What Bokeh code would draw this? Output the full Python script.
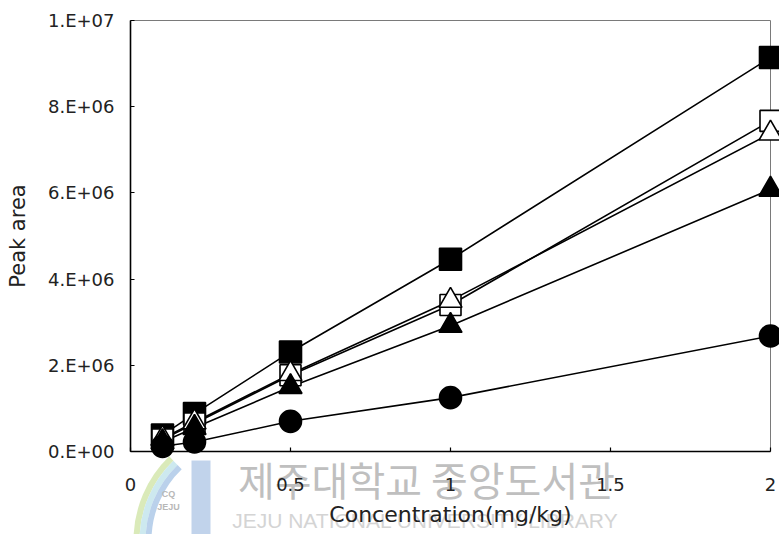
import numpy as np
from bokeh.plotting import figure
from bokeh.models import FixedTicker, Range1d
from bokeh.core.properties import value
from bokeh.embed import file_html
from bokeh.resources import INLINE

# Concentration levels (mg/kg)
conc = [0.1, 0.2, 0.5, 1.0, 2.0]

# Peak areas for the five compounds
area_sq_filled = [0.38e6, 0.88e6, 2.31e6, 4.46e6, 9.14e6]
area_sq_open = [0.28e6, 0.65e6, 1.77e6, 3.40e6, 7.67e6]
area_tri_open = [0.30e6, 0.68e6, 1.80e6, 3.50e6, 7.38e6]
area_tri_filled = [0.22e6, 0.55e6, 1.50e6, 2.92e6, 6.08e6]
area_circle = [0.12e6, 0.22e6, 0.70e6, 1.25e6, 2.68e6]

x_ticks = [0, 0.5, 1, 1.5, 2]
x_tick_labels = ["0", "0.5", "1", "1.5", "2"]
y_ticks = [0, 2e6, 4e6, 6e6, 8e6, 1e7]
y_tick_labels = ["0.E+00", "2.E+06", "4.E+06", "6.E+06", "8.E+06", "1.E+07"]

X0, X1, Y0, Y1 = 0, 2, 0, 1e7
LEFT, RIGHT, TOP, BOTTOM = 130, 9, 20, 83
W, H = 779, 534

p = figure(width=W, height=H, x_range=Range1d(X0, X1), y_range=Range1d(Y0, Y1),
           output_backend="svg", toolbar_location=None,
           min_border_left=LEFT, min_border_right=RIGHT,
           min_border_top=TOP, min_border_bottom=BOTTOM)
p.background_fill_color = "white"
p.border_fill_color = "white"
p.xgrid.visible = False
p.ygrid.visible = False
p.outline_line_color = "#7a7a7a"
p.outline_line_width = 1

p.xaxis.ticker = FixedTicker(ticks=x_ticks)
p.yaxis.ticker = FixedTicker(ticks=y_ticks)
p.xaxis.major_label_overrides = {t: s for t, s in zip(x_ticks, x_tick_labels)}
p.yaxis.major_label_overrides = {t: s for t, s in zip(y_ticks, y_tick_labels)}

for ax in (p.xaxis[0], p.yaxis[0]):
    ax.level = "overlay"
    ax.axis_line_color = "black"
    ax.axis_line_width = 1.6
    ax.major_tick_in = 4
    ax.major_tick_out = 0
    ax.major_tick_line_color = "black"
    ax.major_tick_line_width = 1.2
    ax.minor_tick_line_color = None
    ax.major_label_text_font = "DejaVu Sans"
    ax.major_label_text_font_size = "18px"
    ax.major_label_text_color = "#222222"
    ax.axis_label_text_font = "DejaVu Sans"
    ax.axis_label_text_font_style = "normal"
    ax.axis_label_text_color = "#222222"

p.xaxis.axis_label = "Concentration(mg/kg)"
p.yaxis.axis_label = "Peak area"
p.xaxis.axis_label_text_font_size = "22px"
p.yaxis.axis_label_text_font_size = "21px"
p.xaxis.major_label_standoff = 26
p.yaxis.major_label_standoff = 16
p.xaxis.axis_label_standoff = 8
p.yaxis.axis_label_standoff = 15

# library watermark below the plot frame (drawn first, under the axes)
def px2x(px):
    return X0 + (px - LEFT) * (X1 - X0) / (W - LEFT - RIGHT)

def py2y(py):
    return Y1 - (py - TOP) * (Y1 - Y0) / (H - TOP - BOTTOM)

ring = p.annular_wedge(x=[px2x(250)] * 3, y=[py2y(540)] * 3,
                       inner_radius=[111, 105, 99], outer_radius=[117, 111, 105],
                       inner_radius_units="screen", outer_radius_units="screen",
                       start_angle=np.radians(134), end_angle=np.radians(180),
                       fill_color=["#d3e6ad", "#c4e5ec", "#aec9e8"],
                       fill_alpha=0.85, line_color=None)
ring.level = "overlay"
bar = p.rect(x=[px2x(200.5)], y=[py2y(500)], width=19, height=80,
             width_units="screen", height_units="screen",
             fill_color="#b6cbe7", fill_alpha=0.85, line_color=None)
bar.level = "overlay"

wm_kr = p.text(x=[px2x(426)], y=[py2y(478)], text=["제주대학교 중앙도서관"],
               text_font=value("Noto Sans CJK KR"), text_font_size="40px",
               text_color="#bfbfbf", text_align="center", text_baseline="middle")
wm_kr.level = "overlay"
wm_en = p.text(x=[px2x(425)], y=[py2y(520)], text=["JEJU NATIONAL UNIVERSITY LIBRARY"],
               text_font=value("Liberation Sans"), text_font_size="21px",
               text_color="#d4d4d4", text_align="center", text_baseline="middle")
wm_en.level = "overlay"
wm_logo = p.text(x=[px2x(168), px2x(168)], y=[py2y(493), py2y(506)], text=["CQ", "JEJU"],
                 text_font=value("Liberation Sans"), text_font_size="9px",
                 text_font_style="bold",
                 text_color="#b8b8b8", text_align="center", text_baseline="middle")
wm_logo.level = "overlay"

series = [
    (area_sq_filled, "square", "black", 22),
    (area_sq_open, "square", "white", 21),
    (area_tri_open, "triangle", "white", 23),
    (area_tri_filled, "triangle", "black", 23),
    (area_circle, "circle", "black", 22),
]
for vals, marker, fill, size in series:
    p.line(conc, vals, line_color="black", line_width=1.6)
for vals, marker, fill, size in series:
    r = p.scatter(conc, vals, marker=marker, size=size, fill_color=fill,
                  line_color="black", line_width=1.6)
    r.level = "overlay"

open("out.html", "w").write(file_html(p, INLINE))
